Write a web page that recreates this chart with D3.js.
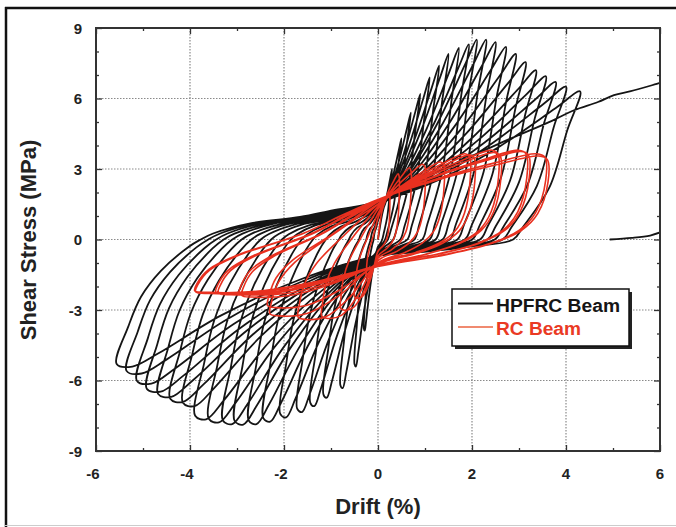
<!DOCTYPE html>
<html><head><meta charset="utf-8">
<script src="https://cdn.jsdelivr.net/npm/d3@7"></script>
<style>body{margin:0;background:#fff}svg{display:block;font-family:"Liberation Sans",Arial,sans-serif}</style>
</head><body>
<svg id="c" width="676" height="527"></svg>
<script>
// ---- axis ticks ----
const xTicks = [-6, -4, -2, 0, 2, 4, 6];
const xMinor = [-5, -3, -1, 1, 3, 5];
const yTicks = [-9, -6, -3, 0, 3, 6, 9];
const yMinor = [-8, -7, -5, -4, -2, -1, 1, 2, 4, 5, 7, 8];

// ---- HPFRC beam: cycle peaks ----
const hpPosDrift  = [0.3, 0.5, 0.7, 0.9, 1.1, 1.3, 1.5, 1.72, 1.93, 2.1, 2.3, 2.5, 2.72, 2.93, 3.14, 3.36, 3.57, 3.78, 4.0, 4.3];
const hpPosStress = [3.0, 4.3, 5.4, 6.2, 6.9, 7.4, 7.9, 8.15, 8.3, 8.5, 8.5, 8.4, 8.2, 7.9, 7.55, 7.2, 6.95, 6.7, 6.5, 6.3];
const hpNegDrift  = [-0.3, -0.5, -0.8, -1.16, -1.44, -1.72, -2.08, -2.44, -2.75, -3.05, -3.3, -3.6, -3.89, -4.15, -4.42, -4.68, -4.92, -5.13, -5.35, -5.56];
const hpNegStress = [-3.8, -5.3, -6.2, -6.6, -6.95, -7.2, -7.42, -7.6, -7.7, -7.72, -7.7, -7.63, -7.5, -6.95, -6.78, -6.57, -6.35, -6.01, -5.59, -5.3];
const hpPosIntercept = [0.6, 0.8, 0.9, 1.0, 1.1, 1.15, 1.2, 1.25, 1.3, 1.35, 1.4, 1.4, 1.45, 1.45, 1.5, 1.5, 1.55, 1.55, 1.6, 1.6, 1.6];
const hpNegIntercept = [-0.3, -0.35, -0.4, -0.45, -0.5, -0.5, -0.55, -0.55, -0.6, -0.6, -0.6, -0.62, -0.62, -0.65, -0.65, -0.65, -0.68, -0.68, -0.7, -0.7];
// final monotonic push
const hpFinalDrift  = [1.2, 2.6, 3.7, 4.17, 4.68, 5.02, 5.38, 5.98, 6.0];
const hpFinalStress = [2.8, 4.1, 5.05, 5.5, 5.85, 6.14, 6.31, 6.65, 6.66];
// short trace at lower right
const hpTailDrift  = [4.93, 5.4, 5.79, 6.0];
const hpTailStress = [0.0, 0.07, 0.17, 0.3];

// ---- RC beam ----
const rcPosDrift  = [0.25, 0.45, 0.7, 1.0, 1.4, 1.95, 2.05, 2.55, 2.6, 3.15, 3.2, 3.55, 3.6];
const rcPosStress = [2.0, 2.8, 3.05, 3.2, 3.3, 3.65, 3.6, 3.8, 3.7, 3.8, 3.75, 3.65, 3.55];
const rcNegDrift  = [-0.25, -0.5, -0.8, -1.2, -1.7, -2.3, -2.35, -2.9, -2.95, -3.4, -3.45, -3.88, -3.9];
const rcNegStress = [-1.6, -2.5, -3.0, -3.35, -3.4, -3.25, -2.9, -2.45, -2.35, -2.35, -2.3, -2.3, -2.25];
const rcPosIntercept = [0.6, 0.9, 1.1, 1.3, 1.4, 1.5, 1.5, 1.6, 1.6, 1.65, 1.65, 1.7, 1.7, 1.7];
const rcNegIntercept = [-0.5, -0.7, -0.8, -0.9, -1.0, -1.0, -1.05, -1.1, -1.1, -1.1, -1.1, -1.15, -1.15];

const legendLabels = ["HPFRC Beam", "RC Beam"];

// ---- build loop paths through the read peaks ----
function hpPath() {
  const p = [[0, 0]];
  const n = hpPosDrift.length;
  for (let i = 0; i < n; i++) {
    const dp = hpPosDrift[i], sp = hpPosStress[i], dn = hpNegDrift[i], sn = hpNegStress[i];
    const pi = hpPosIntercept[i], ni = hpNegIntercept[i], pn = hpPosIntercept[i + 1];
    p.push([0.3 * dp, pi + (sp - pi) * 0.2], [0.6 * dp, pi + (sp - pi) * 0.5], [0.88 * dp, pi + (sp - pi) * 0.85], [dp, sp]);
    const o = Math.min(0.7 * dp, 0.35 + 0.25 * dp), z = dp - o;
    p.push([dp - 0.19 * o, 0.74 * sp], [dp - 0.46 * o, 0.35 * sp], [dp - 0.86 * o, 0.08 * sp], [z, 0],
           [z * 0.68, ni * 0.43], [z * 0.34, ni * 0.75], [0, ni]);
    p.push([dn * 0.3, ni + (sn - ni) * 0.22], [dn * 0.6, ni + (sn - ni) * 0.55], [dn * 0.84, ni + (sn - ni) * 0.9],
           [dn * 0.94, sn * 1.02], [dn, sn]);
    const a = -dn, o2 = Math.min(0.5 * a, 0.35 + 0.17 * a), z2 = dn + 1.38 * o2;
    p.push([dn + 0.19 * o2, 0.7 * sn], [dn + 0.4 * o2, 0.46 * sn], [dn + 0.73 * o2, 0.25 * sn], [dn + 1.18 * o2, 0.06 * sn], [z2, 0],
           [z2 * 0.93, pn * 0.16], [z2 * 0.72, pn * 0.43], [z2 * 0.44, pn * 0.6], [z2 * 0.25, pn * 0.78], [0, pn]);
  }
  hpFinalDrift.forEach((d, k) => p.push([d, hpFinalStress[k]]));
  return p;
}
function rcPath() {
  const p = [[0, 0]];
  const n = rcPosDrift.length;
  for (let i = 0; i < n; i++) {
    const dp = rcPosDrift[i], sp = rcPosStress[i], dn = rcNegDrift[i], sn = rcNegStress[i];
    const pi = rcPosIntercept[i], ni = rcNegIntercept[i], pn = rcPosIntercept[i + 1];
    p.push([0.35 * dp, pi + (sp - pi) * 0.45], [0.7 * dp, pi + (sp - pi) * 0.8], [0.95 * dp, sp], [dp, sp * 0.96]);
    p.push([dp * 1.005, sp * 0.69], [dp * 0.944, sp * 0.31], [dp * 0.845, sp * 0.105], [dp * 0.67, ni * 0.15],
           [dp * 0.41, ni * 0.55], [0, ni]);
    p.push([dn * 0.35, ni + (sn - ni) * 0.6], [dn * 0.65, ni + (sn - ni) * 0.95], [dn * 0.92, sn], [dn, sn * 0.97]);
    const a = -dn;
    p.push([dn + 0.013 * a, 0.83 * sn], [dn + 0.077 * a, 0.565 * sn], [dn + 0.23 * a, 0.3 * sn],
           [dn + 0.59 * a, 0.15 * pn], [dn + 0.8 * a, 0.6 * pn], [0, pn]);
  }
  return p;
}

// ---- drawing ----
const svg = d3.select("#c");
const W = 676, H = 527;
const x = d3.scaleLinear().domain([-6, 6]).range([96, 660]);
const y = d3.scaleLinear().domain([-9, 9]).range([451, 28]);

// outer frame of figure
svg.append("line").attr("x1", 6).attr("x2", 6).attr("y1", 7).attr("y2", H).attr("stroke", "#111").attr("stroke-width", 2.5);
svg.append("line").attr("x1", 5).attr("x2", W).attr("y1", 8).attr("y2", 8).attr("stroke", "#111").attr("stroke-width", 2.5);
svg.append("line").attr("x1", 5).attr("x2", W).attr("y1", 525.5).attr("y2", 525.5).attr("stroke", "#ccc").attr("stroke-width", 1);

// grid
const grid = svg.append("g").attr("stroke", "#8a8a8a").attr("stroke-width", 1.2).attr("stroke-dasharray", "1.5,1.5");
xTicks.filter(v => v > -6 && v < 6).forEach(v => grid.append("line").attr("x1", x(v)).attr("x2", x(v)).attr("y1", y(9)).attr("y2", y(-9)));
yTicks.filter(v => v > -9 && v < 9).forEach(v => grid.append("line").attr("x1", x(-6)).attr("x2", x(6)).attr("y1", y(v)).attr("y2", y(v)));

// clip
svg.append("clipPath").attr("id", "clip").append("rect").attr("x", x(-6)).attr("y", y(9)).attr("width", x(6) - x(-6)).attr("height", y(-9) - y(9));

const line = d3.line().x(d => x(d[0])).y(d => y(d[1])).curve(d3.curveCatmullRom.alpha(0.5));
const plot = svg.append("g").attr("clip-path", "url(#clip)");
plot.append("path").attr("d", line(hpPath())).attr("fill", "none").attr("stroke", "#151515").attr("stroke-width", 1.8).attr("stroke-linejoin", "round");
plot.append("path").attr("d", line(hpTailDrift.map((d, k) => [d, hpTailStress[k]]))).attr("fill", "none").attr("stroke", "#151515").attr("stroke-width", 1.8);
plot.append("path").attr("d", line(rcPath())).attr("fill", "none").attr("stroke", "#e8301f").attr("stroke-width", 1.6).attr("stroke-linejoin", "round");

// axes (inward ticks)
function ax(gen, tx, ty) { return svg.append("g").attr("transform", `translate(${tx},${ty})`).call(gen); }
const axes = [
  ax(d3.axisBottom(x).tickValues(xTicks).tickSize(-6).tickFormat(""), 0, y(-9)),
  ax(d3.axisBottom(x).tickValues(xMinor).tickSize(-3).tickFormat(""), 0, y(-9)),
  ax(d3.axisTop(x).tickValues(xTicks).tickSize(-6).tickFormat(""), 0, y(9)),
  ax(d3.axisTop(x).tickValues(xMinor).tickSize(-3).tickFormat(""), 0, y(9)),
  ax(d3.axisLeft(y).tickValues(yTicks).tickSize(-6).tickFormat(""), x(-6), 0),
  ax(d3.axisLeft(y).tickValues(yMinor).tickSize(-3).tickFormat(""), x(-6), 0),
  ax(d3.axisRight(y).tickValues(yTicks).tickSize(-6).tickFormat(""), x(6), 0),
  ax(d3.axisRight(y).tickValues(yMinor).tickSize(-3).tickFormat(""), x(6), 0)
];
axes.forEach(g => { g.selectAll(".domain").remove(); g.selectAll("line").attr("stroke", "#333").attr("stroke-width", 1.3); });
svg.append("rect").attr("x", x(-6)).attr("y", y(9)).attr("width", x(6) - x(-6)).attr("height", y(-9) - y(9))
  .attr("fill", "none").attr("stroke", "#333").attr("stroke-width", 2);

// tick labels
svg.append("g").selectAll("text").data(xTicks).join("text")
  .attr("x", d => x(d) - (d < 0 ? 3 : 0)).attr("y", 479).attr("text-anchor", "middle")
  .attr("font-size", 15).attr("font-weight", "bold").attr("fill", "#222").text(d => d);
svg.append("g").selectAll("text").data(yTicks).join("text")
  .attr("x", 82).attr("y", d => y(d) + 5.5).attr("text-anchor", "end")
  .attr("font-size", 15).attr("font-weight", "bold").attr("fill", "#222").text(d => d);

// axis titles
svg.append("text").attr("x", 378).attr("y", 514).attr("text-anchor", "middle").attr("font-size", 22).attr("font-weight", "bold").attr("fill", "#222").text("Drift (%)");
svg.append("text").attr("transform", "translate(36,240) rotate(-90)").attr("text-anchor", "middle").attr("font-size", 22).attr("font-weight", "bold").attr("fill", "#222").text("Shear Stress (MPa)");

// legend
const lg = svg.append("g");
lg.append("rect").attr("x", 455).attr("y", 292).attr("width", 177).attr("height", 57).attr("fill", "#222");
lg.append("rect").attr("x", 452).attr("y", 289).attr("width", 177).attr("height", 57).attr("fill", "#fff").attr("stroke", "#111").attr("stroke-width", 1.5);
const legColors = ["#151515", "#f08a70"], legText = ["#151515", "#ea3a24"];
legendLabels.forEach((t, k) => {
  const yy = 303.5 + k * 23.5;
  lg.append("line").attr("x1", 458).attr("x2", 493).attr("y1", yy).attr("y2", yy).attr("stroke", legColors[k]).attr("stroke-width", 2);
  lg.append("text").attr("x", 496).attr("y", yy + 8).attr("font-size", 17.5).attr("font-weight", "bold").attr("fill", legText[k])
    .attr("textLength", k === 0 ? 124 : 85).attr("lengthAdjust", "spacingAndGlyphs").text(t);
});
</script>
</body></html>
